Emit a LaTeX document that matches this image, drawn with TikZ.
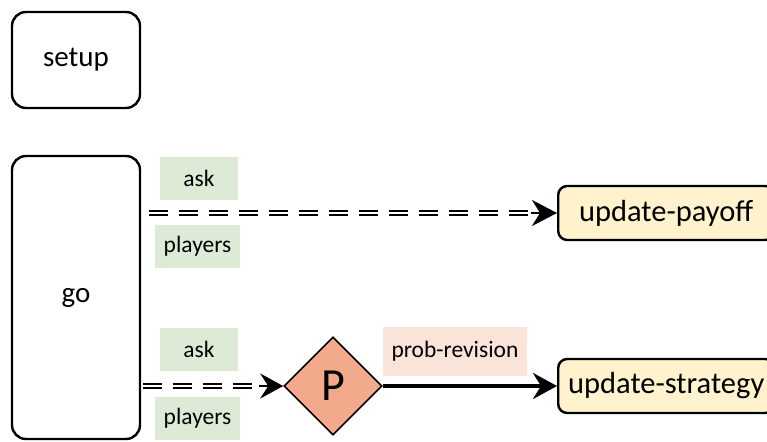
\documentclass[tikz,border=0pt]{standalone}
\usepackage{fontspec}
\setmainfont{Carlito}
\usetikzlibrary{arrows.meta,shapes.geometric,calc}
\definecolor{lblgreen}{HTML}{DDEBD6}
\definecolor{lblpink}{HTML}{FAE3D9}
\definecolor{boxyellow}{HTML}{FFF2CC}
\definecolor{dmdfill}{HTML}{F3A98C}
\begin{document}
\begin{tikzpicture}[x=1pt,y=-1pt,
  proc/.style={draw=black, line width=2.4pt, rounded corners=14pt, fill=white,
    minimum width=128pt, inner sep=0pt, font=\fontsize{29}{32}\selectfont},
  agent/.style={draw=black, line width=2.4pt, rounded corners=9pt, fill=boxyellow,
    minimum width=216pt, minimum height=54pt, inner sep=0pt, anchor=west,
    font=\fontsize{30.5}{34}\selectfont},
  lbl/.style={fill=lblgreen, inner sep=0pt, minimum height=43pt,
    font=\fontsize{23.5}{27}\selectfont},
  dbl/.style={double=white, double distance=2pt, line width=1.6pt,
    dash pattern=on 19pt off 11pt},
  tip/.style={line width=2pt, -{Stealth[length=25pt, width=26pt, inset=8pt]}},
  solidarr/.style={line width=3.5pt, -{Stealth[length=24pt, width=26pt, inset=8pt]}}
]
\clip (0,0) rectangle (767,441);
\fill[white] (0,0) rectangle (767,441);

\node[proc, minimum height=96pt] (setup) at (76,60) {setup};
\node[proc, minimum height=283pt] (go) at (76,297.5) {go};

\node[agent] (payoff) at (557,213) {update-payoff};
\node[agent] (strategy) at (557,386) {update-strategy};

\node[diamond, draw=black, line width=1.6pt, fill=dmdfill, minimum width=98pt,
  minimum height=98pt, inner sep=0pt, font=\fontsize{46}{50}\selectfont] (P) at (333,386) {P};

\node[lbl, minimum width=78pt] (ask1) at (199,178.5) {ask};
\node[lbl, minimum width=85pt] (pl1) at (197.5,246.5) {players};
\node[lbl, minimum width=78pt] (ask2) at (199,349.5) {ask};
\node[lbl, minimum width=85pt] (pl2) at (197.5,418.5) {players};
\node[fill=lblpink, inner sep=0pt, minimum width=144pt, minimum height=49pt,
  font=\fontsize{23.5}{27}\selectfont] (prob) at (455,351.5) {prob-revision};

% upper connector
\coordinate (t1) at ([xshift=-26pt]payoff.west);
\draw[dbl] ([xshift=8pt]go.east |- payoff.west) -- (t1);
\draw[tip] (t1) -- (payoff.west);

% lower connector
\coordinate (t2) at ([xshift=-24pt]P.west);
\draw[dbl] ([xshift=2pt]go.east |- P.west) -- (t2);
\draw[tip, -{Stealth[length=23pt, width=25pt, inset=8pt]}] (t2) -- (P.west);

\draw[solidarr] (P.east) -- (strategy.west);
\end{tikzpicture}
\end{document}
